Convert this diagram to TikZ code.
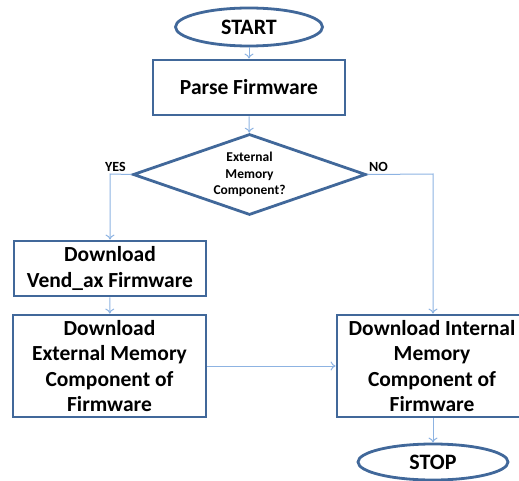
\documentclass[tikz,border=0pt]{standalone}
\usepackage{fontspec}
\setmainfont{Carlito}
\usetikzlibrary{shapes.geometric,arrows.meta}
\definecolor{edgeblue}{HTML}{41689A}
\definecolor{linkblue}{HTML}{8DB3E2}
\begin{document}
\begin{tikzpicture}[x=1pt,y=-1pt,
  box/.style={draw=edgeblue,line width=2.8pt,fill=white,align=center,
    font=\bfseries\fontsize{21.5}{25.5}\selectfont,inner sep=0pt},
  term/.style={ellipse,draw=edgeblue,line width=2.8pt,fill=white,
    font=\bfseries\fontsize{22}{25}\selectfont,inner sep=0pt},
  decide/.style={diamond,draw=edgeblue,line width=2.8pt,fill=white,align=center,
    font=\bfseries\fontsize{13.5}{16.7}\selectfont,inner sep=0pt,aspect=2.9},
  link/.style={draw=linkblue,line width=1pt,-{To[length=5pt,width=9pt]}},
  tag/.style={font=\bfseries\fontsize{14}{16}\selectfont,inner sep=1pt}]
\useasboundingbox (0,0) rectangle (519,481);

% terminals, steps and the decision
\node[term,minimum width=147pt,minimum height=38pt] (start) at (249,27) {START};
\node[box,minimum width=192pt,minimum height=55pt] (parse) at (249,87.5) {Parse Firmware};
\node[decide,minimum width=233pt,minimum height=81pt] (ext) at (249.5,174.5) {External\\Memory\\Component?};
\node[box,minimum width=192pt,minimum height=55pt] (vend) at (110,268.5) {Download\\Vend\_ax Firmware};
\node[box,minimum width=193pt,minimum height=102pt] (extmem) at (109.5,366) {Download\\External Memory\\Component of\\Firmware};
\node[box,minimum width=190pt,minimum height=102pt] (intmem) at (432,366) {Download Internal\\Memory\\Component of\\Firmware};
\node[term,minimum width=150pt,minimum height=36pt] (stop) at (433,462) {STOP};

% branch labels
\node[tag,anchor=south east] (yes) at (127,173) {YES};
\node[tag,anchor=south west] (no) at (368,173) {NO};

% connectors
\coordinate (yesbend) at (110,174);
\coordinate (nobend) at (433,174);
\draw[link] (start) -- (parse);
\draw[link] (parse) -- (ext);
\draw[link] (ext.west) -- (yesbend) -- (vend.north);
\draw[link] (ext.east) -- (nobend) -- (nobend |- intmem.north);
\draw[link] (vend) -- (extmem);
\draw[link] (extmem) -- (intmem);
\draw[link] (nobend |- intmem.south) -- (stop.north);
\end{tikzpicture}
\end{document}
